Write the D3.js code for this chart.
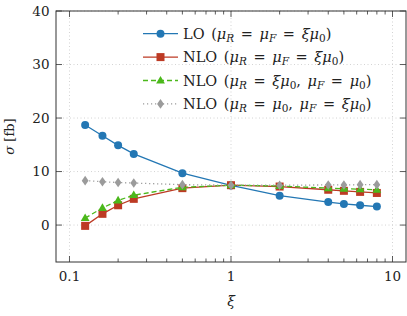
<!DOCTYPE html>
<html lang="en">
<head>
<meta charset="UTF-8">
<title>Scale dependence</title>
<style>
    body { margin: 0; background: #fff; }
    svg text { font-family: "DejaVu Serif", "Liberation Serif", serif; fill: #222; }
    .grid line { stroke: #c8c8c8; stroke-dasharray: 1,2.5; stroke-width: 0.8; }
    .line { fill: none; }
</style>
</head>
<body>
<svg id="chart" width="407" height="316"></svg>
<script src="https://d3js.org/d3.v7.min.js"></script>
<script>
    // values
    const xi = [0.125, 0.16, 0.2, 0.25, 0.5, 1, 2, 4, 5, 6.3, 8];
    const lo = [18.7, 16.7, 14.9, 13.3, 9.7, 7.4, 5.5, 4.3, 3.95, 3.7, 3.45];
    const nlo = [-0.15, 2.1, 3.7, 4.9, 6.9, 7.45, 7.2, 6.6, 6.4, 6.2, 6.0];
    const nloR = [1.3, 3.2, 4.6, 5.6, 7.05, 7.45, 7.3, 6.9, 6.8, 6.7, 6.6];
    const nloF = [8.3, 8.1, 7.95, 7.85, 7.55, 7.45, 7.45, 7.5, 7.5, 7.55, 7.55];
    const xTicks = [0.1, 1, 10];
    const yTicks = [0, 10, 20, 30, 40];

    // label pieces: [text, kind] kind = rm | it | sub | subit
    const labels = [
        [["LO (", "rm"], ["μ", "it"], ["R", "subit"], [" = ", "rm"], ["μ", "it"], ["F", "subit"], [" = ", "rm"], ["ξμ", "it"], ["0", "sub"], [")", "rm"]],
        [["NLO (", "rm"], ["μ", "it"], ["R", "subit"], [" = ", "rm"], ["μ", "it"], ["F", "subit"], [" = ", "rm"], ["ξμ", "it"], ["0", "sub"], [")", "rm"]],
        [["NLO (", "rm"], ["μ", "it"], ["R", "subit"], [" = ", "rm"], ["ξμ", "it"], ["0", "sub"], [", ", "rm"], ["μ", "it"], ["F", "subit"], [" = ", "rm"], ["μ", "it"], ["0", "sub"], [")", "rm"]],
        [["NLO (", "rm"], ["μ", "it"], ["R", "subit"], [" = ", "rm"], ["μ", "it"], ["0", "sub"], [", ", "rm"], ["μ", "it"], ["F", "subit"], [" = ", "rm"], ["ξμ", "it"], ["0", "sub"], [")", "rm"]]
    ];

    const series = [
        { vals: lo, color: "#2377b4", dash: null, marker: "circle" },
        { vals: nlo, color: "#bd3a24", dash: null, marker: "square" },
        { vals: nloR, color: "#4bb81b", dash: "5,3", marker: "triangle" },
        { vals: nloF, color: "#9b9b9b", dash: "1.2,2.8", marker: "diamond" }
    ];

    const svg = d3.select("#chart");
    const L = 56, R = 406, T = 11, B = 262;

    const x = d3.scaleLog().domain([0.0825, 12.12]).range([L, R]);
    const y = d3.scaleLinear().domain([-6.9, 40]).range([B, T]);

    // grid
    const grid = svg.append("g").attr("class", "grid");
    grid.selectAll(".gx").data(xTicks).enter().append("line")
        .attr("x1", d => x(d)).attr("x2", d => x(d)).attr("y1", T).attr("y2", B);
    grid.selectAll(".gy").data(yTicks).enter().append("line")
        .attr("x1", L).attr("x2", R).attr("y1", d => y(d)).attr("y2", d => y(d));

    // ticks inside, on all four sides
    const minor = [];
    for (let dec = 0.1; dec < 10; dec *= 10)
        for (let k = 2; k <= 9; k++) minor.push(dec * k);
    const tk = svg.append("g").attr("stroke", "#333").attr("stroke-width", 0.8);
    xTicks.forEach(v => {
        tk.append("line").attr("x1", x(v)).attr("x2", x(v)).attr("y1", B).attr("y2", B - 6);
        tk.append("line").attr("x1", x(v)).attr("x2", x(v)).attr("y1", T).attr("y2", T + 6);
    });
    minor.forEach(v => {
        tk.append("line").attr("x1", x(v)).attr("x2", x(v)).attr("y1", B).attr("y2", B - 3.5);
        tk.append("line").attr("x1", x(v)).attr("x2", x(v)).attr("y1", T).attr("y2", T + 3.5);
    });
    yTicks.forEach(v => {
        tk.append("line").attr("x1", L).attr("x2", L + 6).attr("y1", y(v)).attr("y2", y(v));
        tk.append("line").attr("x1", R).attr("x2", R - 6).attr("y1", y(v)).attr("y2", y(v));
    });

    // tick labels
    svg.selectAll(".yl").data(yTicks).enter().append("text")
        .attr("x", 49.5).attr("y", d => y(d)).attr("dy", "0.36em")
        .attr("text-anchor", "end").style("font-size", "13.5px")
        .text(d => d);
    svg.selectAll(".xl").data(xTicks).enter().append("text")
        .attr("x", d => x(d)).attr("y", 280.5)
        .attr("text-anchor", "middle").style("font-size", "13.5px")
        .text(d => d);

    // axis titles
    svg.append("text").attr("x", (L + R) / 2).attr("y", 306)
        .attr("text-anchor", "middle").style("font-size", "14px").style("font-style", "italic")
        .text("ξ");
    const yt = svg.append("text").attr("transform", `translate(14,${(T + B) / 2}) rotate(-90)`)
        .attr("text-anchor", "middle").style("font-size", "13px");
    yt.append("tspan").style("font-style", "italic").text("σ");
    yt.append("tspan").text(" [fb]");

    // lines and markers
    const line = d3.line().x(d => x(d[0])).y(d => y(d[1]));

    function marker(g, type, cx, cy, color) {
        if (type === "circle") {
            g.append("circle").attr("cx", cx).attr("cy", cy).attr("r", 4).attr("fill", color);
        } else if (type === "square") {
            g.append("rect").attr("x", cx - 4).attr("y", cy - 4).attr("width", 8).attr("height", 8).attr("fill", color);
        } else if (type === "triangle") {
            g.append("path").attr("d", `M${cx},${cy - 4.6}L${cx + 4.4},${cy + 3}L${cx - 4.4},${cy + 3}Z`).attr("fill", color);
        } else {
            g.append("path").attr("d", `M${cx},${cy - 4.8}L${cx + 3.4},${cy}L${cx},${cy + 4.8}L${cx - 3.4},${cy}Z`).attr("fill", color);
        }
    }

    series.forEach(s => {
        const pts = xi.map((v, i) => [v, s.vals[i]]);
        const g = svg.append("g");
        g.append("path").datum(pts).attr("class", "line").attr("d", line)
            .attr("stroke", s.color).attr("stroke-width", 1.3)
            .attr("stroke-dasharray", s.dash);
        pts.forEach(p => marker(g, s.marker, x(p[0]), y(p[1]), s.color));
    });

    // legend
    const leg = svg.append("g");
    labels.forEach((parts, i) => {
        const s = series[i];
        const ly = 33.7 + i * 23.4;
        leg.append("line").attr("x1", 143).attr("x2", 178).attr("y1", ly).attr("y2", ly)
            .attr("stroke", s.color).attr("stroke-width", 1.3).attr("stroke-dasharray", s.dash);
        marker(leg, s.marker, 160.5, ly, s.color);
        const t = leg.append("text").attr("x", 183).attr("y", ly).attr("dy", "0.36em")
            .style("font-size", "14.5px").style("word-spacing", "2px");
        let down = false;
        parts.forEach(([txt, kind]) => {
            const ts = t.append("tspan").text(txt);
            const isSub = kind === "sub" || kind === "subit";
            if (isSub && !down) { ts.attr("dy", 3); down = true; }
            else if (!isSub && down) { ts.attr("dy", -3); down = false; }
            if (isSub) ts.style("font-size", "10.5px");
            if (kind === "it" || kind === "subit") ts.style("font-style", "italic");
        });
    });

    // frame
    svg.append("rect").attr("x", L).attr("y", T).attr("width", R - L).attr("height", B - T)
        .attr("fill", "none").attr("stroke", "#333").attr("stroke-width", 1);
</script>
</body>
</html>
